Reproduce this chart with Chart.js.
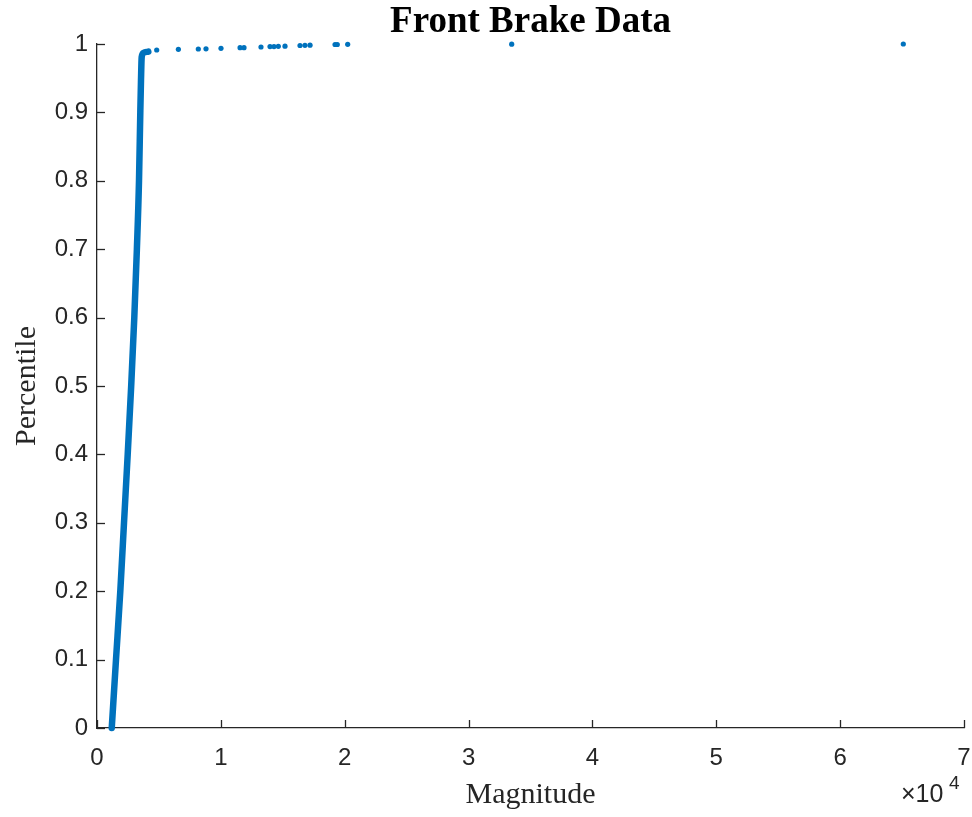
<!DOCTYPE html>
<html>
<head>
<meta charset="utf-8">
<script src="https://cdn.jsdelivr.net/npm/chart.js@4/dist/chart.umd.min.js"></script>
<style>
  html, body { margin:0; padding:0; background:#fff; }
  #wrap { width:972px; height:817px; }
</style>
</head>
<body>
<div id="wrap"><canvas id="c" width="972" height="817"></canvas></div>
<script>
// Front brake data - sorted magnitudes vs percentile
const curveX = [1190, 1534, 1881, 2180, 2479, 2760, 3011, 3220, 3391, 3496, 3552, 3609, 3754, 4142];
const curveY = [0, 0.1, 0.2, 0.3, 0.4, 0.5, 0.6, 0.7, 0.8, 0.9, 0.947, 0.981, 0.987, 0.989];
const tailX = [4820, 6570, 8180, 8800, 10010, 11550, 11870, 13240, 13970, 14290, 14640, 15180, 16390, 16790, 17200, 19220, 19400, 20240, 33480, 65100];
const tailY = [0.9912, 0.9922, 0.9927, 0.9929, 0.9937, 0.9946, 0.9946, 0.9956, 0.9963, 0.9963, 0.9966, 0.9968, 0.9978, 0.998, 0.9983, 0.9993, 0.9993, 0.9995, 0.9998, 1.0];
const xTicks = [0, 1, 2, 3, 4, 5, 6, 7];   // x 10^4
const yTicks = [0, 0.1, 0.2, 0.3, 0.4, 0.5, 0.6, 0.7, 0.8, 0.9, 1];

const BLUE = '#0072BD';
const AXC = '#262626';
const SANS = '"Liberation Sans", Arial, sans-serif';
const SERIF = '"Liberation Serif", "Times New Roman", serif';

const curve = curveX.map((x,i)=>({x, y: curveY[i]}));
const tail = tailX.map((x,i)=>({x, y: tailY[i]}));

// inward ticks, title, axis titles, exponent label
const decor = {
  id: 'decor',
  afterDraw(chart){
    const {ctx, chartArea:a, scales:{x, y}} = chart;
    ctx.save();
    ctx.strokeStyle = AXC; ctx.lineWidth = 1.3;
    xTicks.forEach(t=>{ const px = Math.round(x.getPixelForValue(t*1e4))+0.5; ctx.beginPath(); ctx.moveTo(px, a.bottom); ctx.lineTo(px, a.bottom-8); ctx.stroke(); });
    yTicks.forEach(t=>{ const py = Math.round(y.getPixelForValue(t))+0.5; ctx.beginPath(); ctx.moveTo(a.left, py); ctx.lineTo(a.left+8, py); ctx.stroke(); });

    ctx.fillStyle = '#000';
    ctx.font = 'bold 37px ' + SERIF;
    ctx.textAlign = 'center'; ctx.textBaseline = 'alphabetic';
    ctx.fillText('Front Brake Data', (a.left+a.right)/2, 32);

    ctx.fillStyle = AXC;
    ctx.font = '30px ' + SERIF;
    ctx.fillText('Magnitude', (a.left+a.right)/2, 803);

    ctx.save();
    ctx.translate(35, (a.top+a.bottom)/2);
    ctx.rotate(-Math.PI/2);
    ctx.fillText('Percentile', 0, 0);
    ctx.restore();

    ctx.textAlign = 'left';
    ctx.font = '25px ' + SANS;
    ctx.fillText('\u00d710', 901, 802);
    ctx.font = '19px ' + SANS;
    ctx.fillText('4', 949, 789);
    ctx.restore();
  }
};

new Chart(document.getElementById('c'), {
  type: 'scatter',
  data: {
    datasets: [
      { data: curve, showLine: true, borderColor: BLUE, borderWidth: 6.5, pointRadius: 0, cubicInterpolationMode: 'monotone',
        borderCapStyle: 'round', borderJoinStyle: 'round', clip: false },
      { data: tail, showLine: false, backgroundColor: BLUE, borderWidth: 0, pointRadius: 2.6, clip: false }
    ]
  },
  options: {
    responsive: false,
    devicePixelRatio: 1,
    animation: false,
    layout: { padding: { top: 44, right: 8, left: 0, bottom: 0 } },
    plugins: { legend: { display: false }, tooltip: { enabled: false }, title: { display: false } },
    scales: {
      x: {
        type: 'linear', min: 0, max: 70000,
        afterFit(s){ s.height = 89; s.paddingLeft = 0; s.paddingRight = 0; },
        afterBuildTicks(s){ s.ticks = xTicks.map(v=>({value: v*1e4})); },
        grid: { display: false },
        border: { display: true, color: AXC, width: 1.3 },
        ticks: { callback: v => String(v/1e4), color: AXC, font: { family: SANS, size: 24 }, padding: 8, maxRotation: 0 }
      },
      y: {
        min: 0, max: 1,
        afterFit(s){ s.width = 97; s.paddingTop = 0; s.paddingBottom = 0; },
        afterBuildTicks(s){ s.ticks = yTicks.map(v=>({value: v})); },
        grid: { display: false },
        border: { display: true, color: AXC, width: 1.3 },
        ticks: { callback: v => String(Math.round(v*10)/10), color: AXC, font: { family: SANS, size: 24 }, padding: 1 }
      }
    }
  },
  plugins: [decor]
});
</script>
</body>
</html>
